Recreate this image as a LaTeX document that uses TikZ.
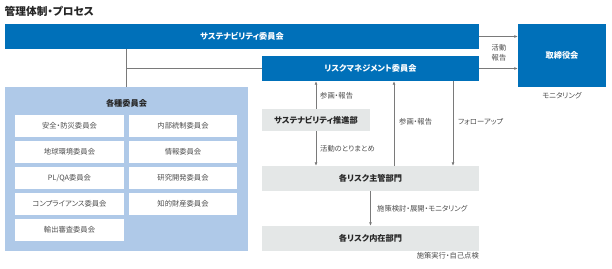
\documentclass[tikz,border=0pt]{standalone}
\usepackage{fontspec}
\setmainfont{Noto Sans CJK JP}[RawFeature={+palt}]
\usetikzlibrary{arrows.meta,calc}
\definecolor{mblue}{HTML}{0070B9}
\definecolor{lblue}{HTML}{AFC9E8}
\definecolor{lgray}{HTML}{E4E7E7}
\definecolor{lnc}{HTML}{7A7A7A}
\definecolor{txt}{HTML}{4D4D4D}
\tikzset{
  bluebox/.style={fill=mblue,draw=none,text=white,font=\bfseries\fontsize{8.2}{10}\selectfont,inner sep=0,anchor=center},
  graybox/.style={fill=lgray,draw=none,text=black!85,font=\bfseries\fontsize{8.2}{10}\selectfont,inner sep=0,anchor=center},
  whitebox/.style={fill=white,draw=none,text=txt,font=\fontsize{7.3}{9}\selectfont,minimum width=109pt,minimum height=22pt,inner sep=0,anchor=center},
  lbl/.style={text=txt,font=\fontsize{7.3}{8.5}\selectfont,inner sep=0},
  conn/.style={draw=lnc,line width=0.8pt},
  arr/.style={conn,-{Latex[length=3.5pt,width=3pt]}}
}
\begin{document}
\begin{tikzpicture}[x=1pt,y=-1pt]
\useasboundingbox (0,0) rectangle (612,268);
\node[anchor=west,inner sep=0,font=\bfseries\fontsize{10.7}{12}\selectfont,text=black!85] (title) at (4.5,11) {管理体制・プロセス};
% main bars
\node[bluebox,minimum width=474pt,minimum height=25pt] (sus) at (242,36.5) {サステナビリティ委員会};
\node[bluebox,minimum width=217pt,minimum height=25pt] (rm) at (370.5,68.5) {リスクマネジメント委員会};
\node[bluebox,minimum width=88pt,minimum height=63pt] (board) at (562,55.5) {取締役会};
\node[lbl,anchor=north] (mon) at (562,92) {モニタリング};
% various committees
\node[fill=lblue,minimum width=243pt,minimum height=164pt,inner sep=0] (various) at (126.5,169) {};
\node[font=\bfseries\fontsize{8.2}{10}\selectfont,text=black!85,inner sep=0] (vt) at (126.5,103) {各種委員会};
\node[whitebox] (w1) at (69.5,126) {安全・防災委員会};
\node[whitebox,minimum width=108pt] (w2) at (183,126) {内部統制委員会};
\node[whitebox] (w3) at (69.5,152) {地球環境委員会};
\node[whitebox,minimum width=108pt] (w4) at (183,152) {情報委員会};
\node[whitebox] (w5) at (69.5,178) {PL/QA委員会};
\node[whitebox,minimum width=108pt] (w6) at (183,178) {研究開発委員会};
\node[whitebox] (w7) at (69.5,204) {コンプライアンス委員会};
\node[whitebox,minimum width=108pt] (w8) at (183,204) {知的財産委員会};
\node[whitebox] (w9) at (69.5,230) {輸出審査委員会};
% right side departments
\node[graybox,minimum width=108pt,minimum height=22pt] (promo) at (316,120) {サステナビリティ推進部};
\node[graybox,minimum width=217pt,minimum height=25pt] (main) at (370.5,178.5) {各リスク主管部門};
\node[graybox,minimum width=217pt,minimum height=25pt] (inh) at (370.5,238.5) {各リスク内在部門};
\node[lbl,anchor=north east] (selfchk) at (479,252.5) {施策実行・自己点検};
% connectors left
\draw[conn] (sus.south -| various.north) -- (various.north);
\draw[conn] (rm.west -| various.north) -- (rm.west);
% to board
\draw[arr] (sus.east) -- (sus.east -| board.west);
\draw[arr] (rm.east) -- (rm.east -| board.west);
\node[lbl,align=center,font=\fontsize{7.3}{9.5}\selectfont] (katsudo) at (499,53) {活動\\報告};
% vertical arrows
\draw[arr] (promo.north) -- (promo.north |- rm.south);
\node[lbl,anchor=west] (l1) at (320,96) {参画・報告};
\draw[arr] (promo.south) -- (promo.south |- main.north);
\node[lbl,anchor=west] (l2) at (320,149) {活動のとりまとめ};
\coordinate (c2) at (394,166);
\draw[arr] (c2) -- (c2 |- rm.south);
\node[lbl,anchor=west] (l3) at (399,122) {参画・報告};
\coordinate (c3) at (453,81);
\draw[arr] (c3) -- (c3 |- main.north);
\node[lbl,anchor=west] (l4) at (458,122) {フォローアップ};
\draw[arr] (main.south) -- (inh.north);
\node[lbl,anchor=west] (l5) at (377,209) {施策検討・展開・モニタリング};
\end{tikzpicture}
\end{document}
